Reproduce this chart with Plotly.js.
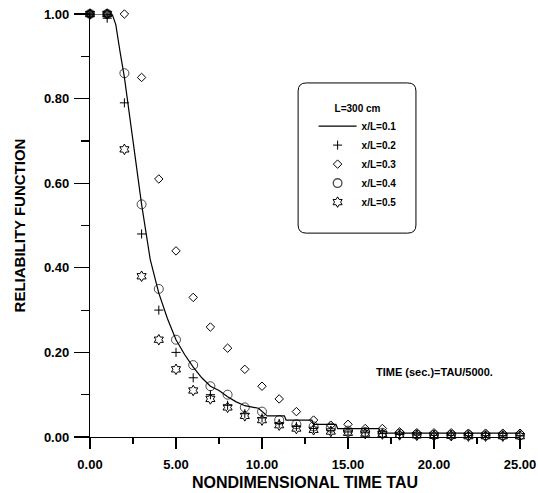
<!DOCTYPE html>
<html>
<head>
<meta charset="utf-8">
<script src="https://cdn.plot.ly/plotly-3.0.1.min.js"></script>
<style>
  html, body { margin: 0; padding: 0; background: #fff; }
  #chart { width: 538px; height: 493px; }
</style>
</head>
<body>
<div id="chart"></div>
<script>
// Nondimensional time TAU at which the sampled series are plotted
const tau = [0, 1, 2, 3, 4, 5, 6, 7, 8, 9, 10, 11, 12, 13, 14, 15, 16, 17, 18, 19, 20, 21, 22, 23, 24, 25];

// Reliability function at x/L = 0.2 .. 0.5
const relX02 = [1.00, 0.99, 0.79, 0.48, 0.30, 0.20, 0.14, 0.10, 0.075, 0.055, 0.045, 0.032, 0.025, 0.020, 0.015, 0.012, 0.010, 0.008, 0.006, 0.005, 0.004, 0.004, 0.003, 0.003, 0.003, 0.003];
const relX03 = [1.00, 1.00, 1.00, 0.85, 0.61, 0.44, 0.33, 0.26, 0.21, 0.16, 0.12, 0.09, 0.06, 0.04, 0.028, 0.03, 0.02, 0.02, 0.012, 0.01, 0.01, 0.01, 0.009, 0.009, 0.009, 0.009];
const relX04 = [1.00, 1.00, 0.86, 0.55, 0.35, 0.23, 0.17, 0.12, 0.10, 0.07, 0.06, 0.04, 0.03, 0.025, 0.022, 0.015, 0.012, 0.010, 0.008, 0.006, 0.005, 0.005, 0.005, 0.004, 0.004, 0.004];
const relX05 = [1.00, 1.00, 0.68, 0.38, 0.23, 0.16, 0.11, 0.09, 0.07, 0.05, 0.04, 0.028, 0.02, 0.017, 0.013, 0.010, 0.008, 0.007, 0.005, 0.004, 0.003, 0.003, 0.002, 0.002, 0.002, 0.002];

// Continuous curve at x/L = 0.1
const curveTau = [0, 1.0, 1.3, 1.5, 1.75, 2.0, 2.5, 3.0, 3.5, 4.0, 4.5, 5.0, 5.5, 6.0, 6.5, 7.0, 7.5, 8.0, 8.5, 9.0, 9.8, 10.3, 11.3, 11.4, 12.9, 13.0, 14.3, 14.4, 16.8, 16.9, 25];
const curveRel = [1.0, 1.0, 0.998, 0.975, 0.91, 0.85, 0.70, 0.55, 0.42, 0.34, 0.28, 0.23, 0.195, 0.165, 0.14, 0.12, 0.11, 0.095, 0.083, 0.074, 0.068, 0.05, 0.05, 0.04, 0.04, 0.03, 0.03, 0.02, 0.02, 0.009, 0.009];

const seriesNames = ['x/L=0.1', 'x/L=0.2', 'x/L=0.3', 'x/L=0.4', 'x/L=0.5'];
const legendTitle = 'L=300 cm';
const xTitle = 'NONDIMENSIONAL TIME TAU';
const yTitle = 'RELIABILITY FUNCTION';
const noteText = 'TIME (sec.)=TAU/5000.';

const FONT = 'Liberation Sans, Arial, sans-serif';
const INK = '#000';

// where every series coincides at R = 1 the open markers merge into a solid dot
const circleSize = tau.map(t => (t <= 1 ? 5 : 9));
const circleLine = tau.map(t => (t <= 1 ? 5 : 1));

const traces = [
  {
    x: curveTau, y: curveRel, name: seriesNames[0], type: 'scatter', mode: 'lines',
    line: { color: INK, width: 1.2 }, cliponaxis: false
  },
  {
    x: tau, y: relX02, name: seriesNames[1], type: 'scatter', mode: 'markers',
    marker: { symbol: 'cross-thin-open', size: 6.5, color: INK, line: { color: INK, width: 1 } },
    cliponaxis: false
  },
  {
    x: tau, y: relX03, name: seriesNames[2], type: 'scatter', mode: 'markers',
    marker: { symbol: 'diamond-open', size: 6.5, color: INK, line: { color: INK, width: 1 } },
    cliponaxis: false
  },
  {
    x: tau, y: relX04, name: seriesNames[3], type: 'scatter', mode: 'markers',
    marker: { symbol: 'circle-open', size: circleSize, color: INK, line: { color: INK, width: circleLine } },
    cliponaxis: false
  },
  {
    x: tau, y: relX05, name: seriesNames[4], type: 'scatter', mode: 'markers',
    marker: { symbol: 'hexagram-open', size: 8, color: INK, line: { color: INK, width: 1 } },
    cliponaxis: false
  }
];

const axisBase = {
  showgrid: false, zeroline: false, showline: true, linecolor: INK, linewidth: 1.2,
  ticks: 'outside', tickcolor: INK, tickwidth: 1.2, tickformat: '.2f',
  tickfont: { family: FONT, size: 13, color: INK, weight: 'bold' },
  automargin: false, fixedrange: true
};

const layout = {
  width: 538, height: 493,
  margin: { l: 90, r: 18, t: 14, b: 56 },
  paper_bgcolor: '#fff', plot_bgcolor: '#fff',
  font: { family: FONT, color: INK },
  showlegend: true,
  xaxis: Object.assign({}, axisBase, {
    range: [0, 25], tick0: 0, dtick: 5, ticklen: 11, ticklabelstandoff: 4,
    minor: { dtick: 2.5, ticks: 'outside', ticklen: 6, tickcolor: INK, tickwidth: 1.2 },
    title: { text: xTitle, standoff: 6, font: { family: FONT, size: 16, color: INK, weight: 'bold' } }
  }),
  yaxis: Object.assign({}, axisBase, {
    range: [0, 1], tick0: 0, dtick: 0.2, ticklen: 15, ticklabelstandoff: 2,
    minor: { dtick: 0.1, ticks: 'outside', ticklen: 8, tickcolor: INK, tickwidth: 1.2 },
    title: { text: yTitle, standoff: 14, font: { family: FONT, size: 15, color: INK, weight: 'bold' } }
  }),
  legend: {
    x: 0.52, y: 0.80, xanchor: 'left', yanchor: 'top',
    bgcolor: 'rgba(0,0,0,0)', borderwidth: 0, itemwidth: 38,
    font: { family: FONT, size: 10, color: INK, weight: 'bold' },
    title: { text: legendTitle, side: 'top center', font: { family: FONT, size: 10, color: INK, weight: 'bold' } }
  },
  shapes: [
    {
      // rounded frame around the legend
      type: 'path', xref: 'paper', yref: 'paper', layer: 'below',
      line: { color: INK, width: 1 },
      path: 'M 0.503 0.837 L 0.739 0.837 Q 0.758 0.837 0.758 0.818 L 0.758 0.501 Q 0.758 0.482 0.739 0.482 ' +
            'L 0.503 0.482 Q 0.484 0.482 0.484 0.501 L 0.484 0.818 Q 0.484 0.837 0.503 0.837 Z'
    }
  ],
  annotations: [
    {
      text: noteText, xref: 'paper', yref: 'paper', x: 0.8, y: 0.154, xanchor: 'center', yanchor: 'middle',
      showarrow: false, font: { family: FONT, size: 11, color: INK, weight: 'bold' }
    }
  ]
};

Plotly.newPlot('chart', traces, layout, { staticPlot: true, displayModeBar: false });
</script>
</body>
</html>
